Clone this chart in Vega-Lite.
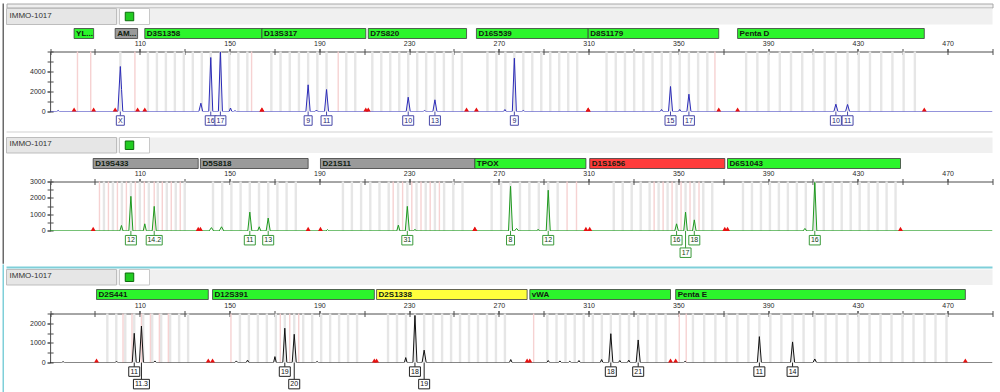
{
"$schema":"https://vega.github.io/schema/vega-lite/v6.json",
"padding":{"left":2.5,"top":2.5,"right":0,"bottom":0},
"config":{"view":{"stroke":null},"font":"Liberation Sans","axis":{"labelOverlap":false,"labelFlush":false}},
"datasets":{
"header":[{"sample":"IMMO-1017","status":"ok"}],
"loci":[
{"p":1,"locus":"YL...","start":80.7,"end":89.4,"qc":"pass"},
{"p":1,"locus":"AM...","start":99.0,"end":109.0,"qc":"none"},
{"p":1,"locus":"D3S1358","start":112.2,"end":164.4,"qc":"pass"},
{"p":1,"locus":"D13S317","start":164.4,"end":210.7,"qc":"pass"},
{"p":1,"locus":"D7S820","start":211.8,"end":255.6,"qc":"pass"},
{"p":1,"locus":"D16S539","start":260.0,"end":309.8,"qc":"pass"},
{"p":1,"locus":"D8S1179","start":309.8,"end":368.0,"qc":"pass"},
{"p":1,"locus":"Penta D","start":376.4,"end":459.6,"qc":"pass"},
{"p":2,"locus":"D19S433","start":89.2,"end":136.0,"qc":"none"},
{"p":2,"locus":"D5S818","start":137.0,"end":185.0,"qc":"none"},
{"p":2,"locus":"D21S11","start":190.5,"end":259.3,"qc":"none"},
{"p":2,"locus":"TPOX","start":259.3,"end":308.8,"qc":"pass"},
{"p":2,"locus":"D1S1656","start":310.5,"end":370.7,"qc":"fail"},
{"p":2,"locus":"D6S1043","start":371.9,"end":449.0,"qc":"pass"},
{"p":3,"locus":"D2S441","start":90.7,"end":140.5,"qc":"pass"},
{"p":3,"locus":"D12S391","start":142.4,"end":214.5,"qc":"pass"},
{"p":3,"locus":"D2S1338","start":215.5,"end":282.6,"qc":"check"},
{"p":3,"locus":"vWA","start":283.8,"end":346.5,"qc":"pass"},
{"p":3,"locus":"Penta E","start":348.8,"end":477.9,"qc":"pass"}
],
"bins":[
{"p":1,"k":"p","b":[82.2,88.1,107.8,159.8,198.4,366.3]},
{"p":1,"k":"g","b":[101.3,113.6,117.6,121.6,125.6,129.6,133.6,137.6,141.6,145.9,149.9,153.9,157.9,168.6,172.7,176.8,180.9,185.0,189.1,193.2,202.0,206.0,213.6,217.6,221.6,225.6,229.6,233.6,237.6,241.5,245.5,249.5,253.5,264.9,268.9,272.9,276.9,280.9,284.9,288.9,292.9,296.9,300.9,304.9,318.0,322.1,326.2,330.3,334.4,338.5,342.6,346.5,350.6,354.7,358.8,362.9,380.2,385.2,390.2,395.2,400.2,405.2,410.2,415.2,420.2,425.4,430.4,435.4,440.4,445.4,450.4,455.4]},
{"p":2,"k":"g","b":[94,98,102,106,110,114,118,122,126,130,142.6,146.7,150.8,154.9,159.0,163.1,167.2,171.3,175.4,179.5,200.5,204.5,208.6,212.7,216.8,220.9,225.1,229.2,233.3,237.4,241.5,245.6,249.7,253.8,266.8,271.0,275.2,279.4,283.6,287.8,292.0,296.2,321.2,325.2,329.2,333.2,337.2,341.2,345.2,349.2,353.2,357.1,361.1,365.1,378.8,382.8,386.8,390.8,394.8,398.8,402.8,406.8,410.8,414.8,418.8,422.8,426.8,430.8,434.8,438.8,442.8,446.8]},
{"p":2,"k":"p","b":[92,96,100,104,108,112,116.4,120,124,128,222.9,227.1,231.2,235.3,239.4,243.5,300.4,304.6,339.2,343.2,347.2,351.2,355.2,359.2]},
{"p":3,"k":"g","b":[95.5,99.5,103.5,107.5,111.5,115.5,119.5,123.5,127.5,131.5,154.6,158.6,162.6,166.6,170.6,174.6,178.8,182.8,186.8,190.8,194.8,198.8,202.8,206.8,220.6,224.6,228.6,232.6,236.7,240.7,244.7,248.7,252.7,256.7,260.7,264.7,268.7,272.7,291.6,295.7,299.7,303.8,307.8,311.9,315.9,319.9,324.0,328.0,332.1,336.2,340.2,344.3,356.5,361.5,366.5,371.4,376.3,381.2,386.1,391.0,395.9,400.9,405.8,410.7,415.6,420.5,425.4,430.3,435.2,440.1,445.0,449.9,454.8,459.7,464.6,469.5]},
{"p":3,"k":"p","b":[102.5,106.5,110.7,114.7,118.7,122.7,150.6,172.6,176.8,180.8,285.5,350.4,353.5]}
],
"alleles":[
{"p":1,"bp":101.3,"label":"X","tier":1},
{"p":1,"bp":141.6,"label":"16","tier":1},
{"p":1,"bp":145.9,"label":"17","tier":1},
{"p":1,"bp":185.0,"label":"9","tier":1},
{"p":1,"bp":193.2,"label":"11","tier":1},
{"p":1,"bp":229.6,"label":"10","tier":1},
{"p":1,"bp":241.5,"label":"13","tier":1},
{"p":1,"bp":276.9,"label":"9","tier":1},
{"p":1,"bp":346.5,"label":"15","tier":1},
{"p":1,"bp":354.7,"label":"17","tier":1},
{"p":1,"bp":420.2,"label":"10","tier":1},
{"p":1,"bp":425.4,"label":"11","tier":1},
{"p":2,"bp":106.0,"label":"12","tier":1},
{"p":2,"bp":116.4,"label":"14.2","tier":1},
{"p":2,"bp":159.0,"label":"11","tier":1},
{"p":2,"bp":167.2,"label":"13","tier":1},
{"p":2,"bp":229.2,"label":"31","tier":1},
{"p":2,"bp":275.2,"label":"8","tier":1},
{"p":2,"bp":292.0,"label":"12","tier":1},
{"p":2,"bp":349.2,"label":"16","tier":1},
{"p":2,"bp":353.2,"label":"17","tier":2},
{"p":2,"bp":357.1,"label":"18","tier":1},
{"p":2,"bp":410.8,"label":"16","tier":1},
{"p":3,"bp":107.5,"label":"11","tier":1},
{"p":3,"bp":110.7,"label":"11.3","tier":2},
{"p":3,"bp":174.6,"label":"19","tier":1},
{"p":3,"bp":178.8,"label":"20","tier":2},
{"p":3,"bp":232.6,"label":"18","tier":1},
{"p":3,"bp":236.7,"label":"19","tier":2},
{"p":3,"bp":319.9,"label":"18","tier":1},
{"p":3,"bp":332.1,"label":"21","tier":1},
{"p":3,"bp":386.1,"label":"11","tier":1},
{"p":3,"bp":400.9,"label":"14","tier":1}
],
"trace":[
{"p":1,"bp":70,"rfu":0},{"p":1,"bp":73.0,"rfu":0},{"p":1,"bp":73.6,"rfu":100},{"p":1,"bp":74.2,"rfu":0},
{"p":1,"bp":100.2,"rfu":0},{"p":1,"bp":101.3,"rfu":4500},{"p":1,"bp":101.85,"rfu":2200},{"p":1,"bp":102.4,"rfu":0},
{"p":1,"bp":136.3,"rfu":0},{"p":1,"bp":137.2,"rfu":830},{"p":1,"bp":138.0,"rfu":0},
{"p":1,"bp":140.7,"rfu":0},{"p":1,"bp":141.6,"rfu":5400},{"p":1,"bp":142.5,"rfu":0},
{"p":1,"bp":145.0,"rfu":0},{"p":1,"bp":145.9,"rfu":5950},{"p":1,"bp":146.8,"rfu":0},
{"p":1,"bp":149.8,"rfu":0},{"p":1,"bp":150.4,"rfu":350},{"p":1,"bp":151.0,"rfu":0},
{"p":1,"bp":151.8,"rfu":0},{"p":1,"bp":152.4,"rfu":80},{"p":1,"bp":153.0,"rfu":0},
{"p":1,"bp":184.0,"rfu":0},{"p":1,"bp":185.0,"rfu":2670},{"p":1,"bp":185.9,"rfu":0},
{"p":1,"bp":188.1,"rfu":0},{"p":1,"bp":188.7,"rfu":150},{"p":1,"bp":189.3,"rfu":0},
{"p":1,"bp":192.3,"rfu":0},{"p":1,"bp":193.2,"rfu":2200},{"p":1,"bp":194.1,"rfu":0},
{"p":1,"bp":228.7,"rfu":0},{"p":1,"bp":229.6,"rfu":1430},{"p":1,"bp":230.5,"rfu":0},
{"p":1,"bp":236.3,"rfu":0},{"p":1,"bp":236.9,"rfu":100},{"p":1,"bp":237.5,"rfu":0},
{"p":1,"bp":240.6,"rfu":0},{"p":1,"bp":241.5,"rfu":1170},{"p":1,"bp":242.4,"rfu":0},
{"p":1,"bp":272.1,"rfu":0},{"p":1,"bp":272.7,"rfu":200},{"p":1,"bp":273.3,"rfu":0},
{"p":1,"bp":276.0,"rfu":0},{"p":1,"bp":276.9,"rfu":5330},{"p":1,"bp":277.8,"rfu":0},
{"p":1,"bp":280.3,"rfu":0},{"p":1,"bp":280.9,"rfu":100},{"p":1,"bp":281.5,"rfu":0},
{"p":1,"bp":341.9,"rfu":0},{"p":1,"bp":342.5,"rfu":200},{"p":1,"bp":343.1,"rfu":0},
{"p":1,"bp":345.6,"rfu":0},{"p":1,"bp":346.5,"rfu":2500},{"p":1,"bp":347.4,"rfu":0},
{"p":1,"bp":350.0,"rfu":0},{"p":1,"bp":350.6,"rfu":200},{"p":1,"bp":351.2,"rfu":0},
{"p":1,"bp":353.8,"rfu":0},{"p":1,"bp":354.7,"rfu":1730},{"p":1,"bp":355.6,"rfu":0},
{"p":1,"bp":419.3,"rfu":0},{"p":1,"bp":420.2,"rfu":730},{"p":1,"bp":421.1,"rfu":0},
{"p":1,"bp":424.5,"rfu":0},{"p":1,"bp":425.4,"rfu":700},{"p":1,"bp":426.3,"rfu":0},
{"p":1,"bp":490,"rfu":0},
{"p":2,"bp":70,"rfu":0},{"p":2,"bp":101.1,"rfu":0},{"p":2,"bp":101.8,"rfu":330},{"p":2,"bp":102.5,"rfu":0},
{"p":2,"bp":105.1,"rfu":0},{"p":2,"bp":106.0,"rfu":2100},{"p":2,"bp":106.9,"rfu":0},
{"p":2,"bp":111.5,"rfu":0},{"p":2,"bp":112.2,"rfu":430},{"p":2,"bp":112.9,"rfu":0},
{"p":2,"bp":115.5,"rfu":0},{"p":2,"bp":116.4,"rfu":1490},{"p":2,"bp":117.3,"rfu":0},
{"p":2,"bp":140.9,"rfu":0},{"p":2,"bp":141.9,"rfu":200},{"p":2,"bp":142.9,"rfu":0},
{"p":2,"bp":145.4,"rfu":0},{"p":2,"bp":146.4,"rfu":250},{"p":2,"bp":147.4,"rfu":0},
{"p":2,"bp":158.1,"rfu":0},{"p":2,"bp":159.0,"rfu":1140},{"p":2,"bp":159.9,"rfu":0},
{"p":2,"bp":162.5,"rfu":0},{"p":2,"bp":163.2,"rfu":250},{"p":2,"bp":163.9,"rfu":0},
{"p":2,"bp":166.3,"rfu":0},{"p":2,"bp":167.2,"rfu":780},{"p":2,"bp":168.1,"rfu":0},
{"p":2,"bp":193.0,"rfu":0},{"p":2,"bp":193.6,"rfu":80},{"p":2,"bp":194.2,"rfu":0},
{"p":2,"bp":224.5,"rfu":0},{"p":2,"bp":225.2,"rfu":350},{"p":2,"bp":225.9,"rfu":0},
{"p":2,"bp":228.3,"rfu":0},{"p":2,"bp":229.2,"rfu":1490},{"p":2,"bp":230.1,"rfu":0},
{"p":2,"bp":232.0,"rfu":0},{"p":2,"bp":232.6,"rfu":100},{"p":2,"bp":233.2,"rfu":0},
{"p":2,"bp":274.3,"rfu":0},{"p":2,"bp":275.2,"rfu":2710},{"p":2,"bp":276.1,"rfu":0},
{"p":2,"bp":277.0,"rfu":0},{"p":2,"bp":277.9,"rfu":150},{"p":2,"bp":278.8,"rfu":0},
{"p":2,"bp":286.9,"rfu":0},{"p":2,"bp":287.5,"rfu":100},{"p":2,"bp":288.1,"rfu":0},
{"p":2,"bp":291.1,"rfu":0},{"p":2,"bp":292.0,"rfu":2470},{"p":2,"bp":292.9,"rfu":0},
{"p":2,"bp":348.4,"rfu":0},{"p":2,"bp":349.2,"rfu":430},{"p":2,"bp":350.0,"rfu":0},
{"p":2,"bp":352.4,"rfu":0},{"p":2,"bp":353.2,"rfu":1140},{"p":2,"bp":354.0,"rfu":0},
{"p":2,"bp":356.3,"rfu":0},{"p":2,"bp":357.1,"rfu":670},{"p":2,"bp":357.9,"rfu":0},
{"p":2,"bp":405.6,"rfu":0},{"p":2,"bp":406.4,"rfu":150},{"p":2,"bp":407.2,"rfu":0},
{"p":2,"bp":409.9,"rfu":0},{"p":2,"bp":410.8,"rfu":2950},{"p":2,"bp":411.7,"rfu":0},
{"p":2,"bp":490,"rfu":0},
{"p":3,"bp":70,"rfu":0},{"p":3,"bp":75.2,"rfu":0},{"p":3,"bp":75.8,"rfu":40},{"p":3,"bp":76.4,"rfu":0},
{"p":3,"bp":99.0,"rfu":0},{"p":3,"bp":99.6,"rfu":50},{"p":3,"bp":100.2,"rfu":0},
{"p":3,"bp":106.6,"rfu":0},{"p":3,"bp":107.5,"rfu":1490},{"p":3,"bp":108.4,"rfu":0},
{"p":3,"bp":109.8,"rfu":0},{"p":3,"bp":110.7,"rfu":1860},{"p":3,"bp":111.6,"rfu":0},
{"p":3,"bp":116.1,"rfu":0},{"p":3,"bp":116.7,"rfu":80},{"p":3,"bp":117.3,"rfu":0},
{"p":3,"bp":152.4,"rfu":0},{"p":3,"bp":153.0,"rfu":80},{"p":3,"bp":153.6,"rfu":0},
{"p":3,"bp":157.4,"rfu":0},{"p":3,"bp":158.0,"rfu":120},{"p":3,"bp":158.6,"rfu":0},
{"p":3,"bp":169.6,"rfu":0},{"p":3,"bp":170.2,"rfu":300},{"p":3,"bp":170.8,"rfu":0},
{"p":3,"bp":173.7,"rfu":0},{"p":3,"bp":174.6,"rfu":1750},{"p":3,"bp":175.5,"rfu":0},
{"p":3,"bp":177.9,"rfu":0},{"p":3,"bp":178.8,"rfu":1440},{"p":3,"bp":179.7,"rfu":0},
{"p":3,"bp":188.4,"rfu":0},{"p":3,"bp":189.0,"rfu":50},{"p":3,"bp":189.6,"rfu":0},
{"p":3,"bp":227.9,"rfu":0},{"p":3,"bp":228.5,"rfu":250},{"p":3,"bp":229.1,"rfu":0},
{"p":3,"bp":231.7,"rfu":0},{"p":3,"bp":232.6,"rfu":2400},{"p":3,"bp":233.5,"rfu":0},
{"p":3,"bp":235.8,"rfu":0},{"p":3,"bp":236.7,"rfu":630},{"p":3,"bp":237.6,"rfu":0},
{"p":3,"bp":274.7,"rfu":0},{"p":3,"bp":275.3,"rfu":150},{"p":3,"bp":275.9,"rfu":0},
{"p":3,"bp":291.4,"rfu":0},{"p":3,"bp":292.0,"rfu":100},{"p":3,"bp":292.6,"rfu":0},
{"p":3,"bp":296.6,"rfu":0},{"p":3,"bp":297.2,"rfu":80},{"p":3,"bp":297.8,"rfu":0},
{"p":3,"bp":301.0,"rfu":0},{"p":3,"bp":301.6,"rfu":60},{"p":3,"bp":302.2,"rfu":0},
{"p":3,"bp":305.1,"rfu":0},{"p":3,"bp":305.7,"rfu":100},{"p":3,"bp":306.3,"rfu":0},
{"p":3,"bp":315.2,"rfu":0},{"p":3,"bp":315.8,"rfu":150},{"p":3,"bp":316.4,"rfu":0},
{"p":3,"bp":319.0,"rfu":0},{"p":3,"bp":319.9,"rfu":1470},{"p":3,"bp":320.8,"rfu":0},
{"p":3,"bp":323.3,"rfu":0},{"p":3,"bp":323.9,"rfu":100},{"p":3,"bp":324.5,"rfu":0},
{"p":3,"bp":327.3,"rfu":0},{"p":3,"bp":327.9,"rfu":120},{"p":3,"bp":328.5,"rfu":0},
{"p":3,"bp":331.2,"rfu":0},{"p":3,"bp":332.1,"rfu":1150},{"p":3,"bp":333.0,"rfu":0},
{"p":3,"bp":352.4,"rfu":0},{"p":3,"bp":353.0,"rfu":60},{"p":3,"bp":353.6,"rfu":0},
{"p":3,"bp":385.2,"rfu":0},{"p":3,"bp":386.1,"rfu":1320},{"p":3,"bp":387.0,"rfu":0},
{"p":3,"bp":400.0,"rfu":0},{"p":3,"bp":400.9,"rfu":1050},{"p":3,"bp":401.8,"rfu":0},
{"p":3,"bp":410.0,"rfu":0},{"p":3,"bp":410.8,"rfu":180},{"p":3,"bp":411.6,"rfu":0},
{"p":3,"bp":490,"rfu":0}
]
},
"hconcat":[
{"vconcat":[
 {"width":1.5,"height":260.2,"view":{"fill":"#6a6a6a"},"data":{"values":[]},"mark":"point"},
 {"width":1.5,"height":129.3,"view":{"fill":"#7fcfd9"},"data":{"values":[]},"mark":"point"}
],"spacing":0,"bounds":"flush"},
{"vconcat":[
 {"width":986,"height":4,"view":{"fill":"#efefef","stroke":"#a8a8a8"},"data":{"values":[]},"mark":"point"},
 {"width":986,"height":0.5,"data":{"values":[]},"mark":"point"},
 {"width":986,"height":16,"view":{"fill":"#f0f0f0"},"data":{"name":"header"},
  "layer":[
   {"mark":{"type":"rect","fill":"#e6e6e6","stroke":"#bdbdbd","strokeWidth":1},"encoding":{"x":{"field":"sample","type":"nominal","scale":{"type":"band","range":[0,110],"paddingInner":0,"paddingOuter":0},"axis":null}}},
   {"mark":{"type":"text","align":"left","dx":3,"baseline":"middle","dy":-1,"fontSize":8,"font":"Liberation Sans","color":"#333333"},"encoding":{"x":{"field":"sample","type":"nominal","bandPosition":0,"scale":{"type":"band","range":[0,110],"paddingInner":0,"paddingOuter":0},"axis":null},"text":{"field":"sample"}}},
   {"mark":{"type":"rect","fill":"#ffffff","stroke":"#c8c8c8","strokeWidth":1},"encoding":{"x":{"field":"status","type":"nominal","scale":{"type":"band","range":[113,143],"paddingInner":0,"paddingOuter":0},"axis":null}}},
   {"mark":{"type":"point","shape":"square","filled":true,"fill":"#22cc22","stroke":"#0d6b0d","strokeWidth":1,"size":72,"opacity":1,"xOffset":-5},"encoding":{"x":{"field":"status","type":"nominal","scale":{"type":"band","range":[113,143],"paddingInner":0,"paddingOuter":0},"axis":null}}}
  ],
  "resolve":{"scale":{"x":"independent"}}},
 {"width":986,"height":4,"data":{"values":[]},"mark":"point"},
 {"width":986,"height":10,"data":{"name":"loci"},"transform":[{"filter":"datum.p==1"}],
  "layer":[
   {"mark":{"type":"rect","stroke":"#3c3c3c","strokeWidth":0.8},"encoding":{"x":{"field":"start","type":"quantitative","scale":{"domain":[70,490],"range":[43.6,986],"nice":false,"zero":false},"axis":null},"x2":{"field":"end"},"color":{"field":"qc","type":"nominal","scale":{"domain":["pass","none","fail","check"],"range":["#2cf52c","#9a9a9a","#ff3b3b","#ffff3c"]},"legend":null}}},
   {"mark":{"type":"text","align":"left","dx":2,"baseline":"middle","fontSize":8,"fontWeight":"bold","font":"Liberation Sans","color":"#102010"},"encoding":{"x":{"field":"start","type":"quantitative","scale":{"domain":[70,490],"range":[43.6,986],"nice":false,"zero":false},"axis":null},"text":{"field":"locus"}}}
  ]},
 {"width":986,"height":13,"data":{"values":[]},"mark":"point"},
 {"width":986,"height":60,
  "layer":[
   {"layer":[
    {"data":{"name":"bins"},"transform":[{"filter":"datum.p==1 && datum.k=='g'"},{"flatten":["b"]}],"mark":{"type":"rule","color":"#e6e6e6","strokeWidth":2.4},"encoding":{"x":{"field":"b","type":"quantitative","scale":{"domain":[70,490],"range":[43.6,986],"nice":false,"zero":false},"axis":{"orient":"top","values":[110,150,190,230,270,310,350,390,430,470],"format":"d","tickSize":3,"tickColor":"#4d4d4d","domainColor":"#4d4d4d","labelFontSize":7,"labelColor":"#2a2a2a","labelPadding":2,"labelFont":"Liberation Sans","title":null,"grid":false,"labelFlush":false,"labelOverlap":false}}}},
    {"data":{"name":"bins"},"transform":[{"filter":"datum.p==1 && datum.k=='p'"},{"flatten":["b"]}],"mark":{"type":"rule","color":"#f6d2d2","strokeWidth":1.4},"encoding":{"x":{"field":"b","type":"quantitative"}}},
    {"data":{"name":"trace"},"transform":[{"filter":"datum.p==1"}],"mark":{"type":"line","color":"#2b2bb8","strokeWidth":1,"clip":true},"encoding":{"x":{"field":"bp","type":"quantitative"},"y":{"field":"rfu","type":"quantitative","scale":{"domain":[0,6000],"nice":false},"axis":{"orient":"left","offset":-43.6,"values":[0,2000,4000],"format":"d","tickSize":3,"tickColor":"#4d4d4d","domainColor":"#4d4d4d","labelFontSize":7,"labelColor":"#2a2a2a","labelPadding":2,"labelFont":"Liberation Sans","title":null,"grid":false,"labelOverlap":false,"labelFlush":false}}}}
   ]},
   {"data":{"name":"loci"},"transform":[{"filter":"datum.p==1"},{"fold":["start","end"],"as":["edge","pos"]}],"mark":{"type":"point","shape":"triangle-up","filled":true,"color":"#e81010","size":24,"opacity":1,"yOffset":-2},
    "encoding":{"x":{"field":"pos","type":"quantitative","scale":{"domain":[70,490],"range":[43.6,986],"nice":false,"zero":false},"axis":{"orient":"top","offset":-3,"values":[70,90,110,130,150,170,190,210,230,250,270,290,310,330,350,370,390,410,430,450,470,490],"labels":false,"domain":false,"tickSize":6,"tickColor":"#4d4d4d","title":null,"grid":false}},
     "y":{"datum":0,"type":"quantitative","scale":{"domain":[0,6000],"nice":false},"axis":{"orient":"left","offset":-46.6,"values":[0,1000,2000,3000,4000,5000,6000],"labels":false,"domain":false,"tickSize":6,"tickColor":"#4d4d4d","title":null,"grid":false}}}},
   {"data":{"name":"alleles"},"transform":[{"filter":"datum.p==1"}],
    "encoding":{"x":{"field":"bp","type":"quantitative","scale":{"domain":[70,490],"range":[43.6,986],"nice":false,"zero":false},"axis":null},"y":{"field":"tier","type":"quantitative","scale":{"domain":[1,2],"range":[69,81.5]},"axis":null}},
    "layer":[
     {"mark":{"type":"rule","color":"#4848a8","yOffset":-4.75,"y2Offset":-9},"encoding":{"y2":{"datum":1}}},
     {"transform":[{"filter":"length(datum.label)==1"}],"mark":{"type":"rect","fill":"#ffffff","stroke":"#4848a8","strokeWidth":1,"xOffset":-4,"x2Offset":4,"yOffset":-4.75,"y2Offset":4.75},"encoding":{"x2":{"field":"bp"},"y2":{"field":"tier"}}},
     {"transform":[{"filter":"length(datum.label)==2"}],"mark":{"type":"rect","fill":"#ffffff","stroke":"#4848a8","strokeWidth":1,"xOffset":-5.5,"x2Offset":5.5,"yOffset":-4.75,"y2Offset":4.75},"encoding":{"x2":{"field":"bp"},"y2":{"field":"tier"}}},
     {"transform":[{"filter":"length(datum.label)>2"}],"mark":{"type":"rect","fill":"#ffffff","stroke":"#4848a8","strokeWidth":1,"xOffset":-8,"x2Offset":8,"yOffset":-4.75,"y2Offset":4.75},"encoding":{"x2":{"field":"bp"},"y2":{"field":"tier"}}},
     {"mark":{"type":"text","fontSize":7,"font":"Liberation Sans","color":"#1c1c70","baseline":"middle"},"encoding":{"text":{"field":"label"}}}
    ]}
  ],
  "resolve":{"scale":{"x":"independent","y":"independent"}}},
 {"width":986,"height":19.5,"data":{"values":[]},"mark":"point"},
 {"width":986,"height":1,"view":{"fill":"#d2d2d2"},"data":{"values":[]},"mark":"point"},
 {"width":986,"height":5,"data":{"values":[]},"mark":"point"},
 {"width":986,"height":15.5,"view":{"fill":"#f0f0f0"},"data":{"name":"header"},
  "layer":[
   {"mark":{"type":"rect","fill":"#e6e6e6","stroke":"#bdbdbd","strokeWidth":1},"encoding":{"x":{"field":"sample","type":"nominal","scale":{"type":"band","range":[0,110],"paddingInner":0,"paddingOuter":0},"axis":null}}},
   {"mark":{"type":"text","align":"left","dx":3,"baseline":"middle","dy":-1,"fontSize":8,"font":"Liberation Sans","color":"#333333"},"encoding":{"x":{"field":"sample","type":"nominal","bandPosition":0,"scale":{"type":"band","range":[0,110],"paddingInner":0,"paddingOuter":0},"axis":null},"text":{"field":"sample"}}},
   {"mark":{"type":"rect","fill":"#ffffff","stroke":"#c8c8c8","strokeWidth":1},"encoding":{"x":{"field":"status","type":"nominal","scale":{"type":"band","range":[113,143],"paddingInner":0,"paddingOuter":0},"axis":null}}},
   {"mark":{"type":"point","shape":"square","filled":true,"fill":"#22cc22","stroke":"#0d6b0d","strokeWidth":1,"size":72,"opacity":1,"xOffset":-5},"encoding":{"x":{"field":"status","type":"nominal","scale":{"type":"band","range":[113,143],"paddingInner":0,"paddingOuter":0},"axis":null}}}
  ],
  "resolve":{"scale":{"x":"independent"}}},
 {"width":986,"height":4.5,"data":{"values":[]},"mark":"point"},
 {"width":986,"height":10,"data":{"name":"loci"},"transform":[{"filter":"datum.p==2"}],
  "layer":[
   {"mark":{"type":"rect","stroke":"#3c3c3c","strokeWidth":0.8},"encoding":{"x":{"field":"start","type":"quantitative","scale":{"domain":[70,490],"range":[43.6,986],"nice":false,"zero":false},"axis":null},"x2":{"field":"end"},"color":{"field":"qc","type":"nominal","scale":{"domain":["pass","none","fail","check"],"range":["#2cf52c","#9a9a9a","#ff3b3b","#ffff3c"]},"legend":null}}},
   {"mark":{"type":"text","align":"left","dx":2,"baseline":"middle","fontSize":8,"fontWeight":"bold","font":"Liberation Sans","color":"#102010"},"encoding":{"x":{"field":"start","type":"quantitative","scale":{"domain":[70,490],"range":[43.6,986],"nice":false,"zero":false},"axis":null},"text":{"field":"locus"}}}
  ]},
 {"width":986,"height":12.8,"data":{"values":[]},"mark":"point"},
 {"width":986,"height":49.4,
  "layer":[
   {"layer":[
    {"data":{"name":"bins"},"transform":[{"filter":"datum.p==2 && datum.k=='g'"},{"flatten":["b"]}],"mark":{"type":"rule","color":"#e6e6e6","strokeWidth":2.4},"encoding":{"x":{"field":"b","type":"quantitative","scale":{"domain":[70,490],"range":[43.6,986],"nice":false,"zero":false},"axis":{"orient":"top","values":[110,150,190,230,270,310,350,390,430,470],"format":"d","tickSize":3,"tickColor":"#4d4d4d","domainColor":"#4d4d4d","labelFontSize":7,"labelColor":"#2a2a2a","labelPadding":2,"labelFont":"Liberation Sans","title":null,"grid":false,"labelFlush":false,"labelOverlap":false}}}},
    {"data":{"name":"bins"},"transform":[{"filter":"datum.p==2 && datum.k=='p'"},{"flatten":["b"]}],"mark":{"type":"rule","color":"#f6d2d2","strokeWidth":1.4},"encoding":{"x":{"field":"b","type":"quantitative"}}},
    {"data":{"name":"trace"},"transform":[{"filter":"datum.p==2"}],"mark":{"type":"line","color":"#1e9a1e","strokeWidth":1,"clip":true},"encoding":{"x":{"field":"bp","type":"quantitative"},"y":{"field":"rfu","type":"quantitative","scale":{"domain":[0,3000],"nice":false},"axis":{"orient":"left","offset":-43.6,"values":[0,1000,2000,3000],"format":"d","tickSize":3,"tickColor":"#4d4d4d","domainColor":"#4d4d4d","labelFontSize":7,"labelColor":"#2a2a2a","labelPadding":2,"labelFont":"Liberation Sans","title":null,"grid":false,"labelOverlap":false,"labelFlush":false}}}}
   ]},
   {"data":{"name":"loci"},"transform":[{"filter":"datum.p==2"},{"fold":["start","end"],"as":["edge","pos"]}],"mark":{"type":"point","shape":"triangle-up","filled":true,"color":"#e81010","size":24,"opacity":1,"yOffset":-2},
    "encoding":{"x":{"field":"pos","type":"quantitative","scale":{"domain":[70,490],"range":[43.6,986],"nice":false,"zero":false},"axis":{"orient":"top","offset":-3,"values":[70,90,110,130,150,170,190,210,230,250,270,290,310,330,350,370,390,410,430,450,470,490],"labels":false,"domain":false,"tickSize":6,"tickColor":"#4d4d4d","title":null,"grid":false}},
     "y":{"datum":0,"type":"quantitative","scale":{"domain":[0,3000],"nice":false},"axis":{"orient":"left","offset":-46.6,"values":[0,500,1000,1500,2000,2500,3000],"labels":false,"domain":false,"tickSize":6,"tickColor":"#4d4d4d","title":null,"grid":false}}}},
   {"data":{"name":"alleles"},"transform":[{"filter":"datum.p==2"}],
    "encoding":{"x":{"field":"bp","type":"quantitative","scale":{"domain":[70,490],"range":[43.6,986],"nice":false,"zero":false},"axis":null},"y":{"field":"tier","type":"quantitative","scale":{"domain":[1,2],"range":[58.7,71.2]},"axis":null}},
    "layer":[
     {"mark":{"type":"rule","color":"#3a9a3a","yOffset":-4.75,"y2Offset":-9.3},"encoding":{"y2":{"datum":1}}},
     {"transform":[{"filter":"length(datum.label)==1"}],"mark":{"type":"rect","fill":"#ffffff","stroke":"#3a9a3a","strokeWidth":1,"xOffset":-4,"x2Offset":4,"yOffset":-4.75,"y2Offset":4.75},"encoding":{"x2":{"field":"bp"},"y2":{"field":"tier"}}},
     {"transform":[{"filter":"length(datum.label)==2"}],"mark":{"type":"rect","fill":"#ffffff","stroke":"#3a9a3a","strokeWidth":1,"xOffset":-5.5,"x2Offset":5.5,"yOffset":-4.75,"y2Offset":4.75},"encoding":{"x2":{"field":"bp"},"y2":{"field":"tier"}}},
     {"transform":[{"filter":"length(datum.label)>2"}],"mark":{"type":"rect","fill":"#ffffff","stroke":"#3a9a3a","strokeWidth":1,"xOffset":-8,"x2Offset":8,"yOffset":-4.75,"y2Offset":4.75},"encoding":{"x2":{"field":"bp"},"y2":{"field":"tier"}}},
     {"mark":{"type":"text","fontSize":7,"font":"Liberation Sans","color":"#143c14","baseline":"middle"},"encoding":{"text":{"field":"label"}}}
    ]}
  ],
  "resolve":{"scale":{"x":"independent","y":"independent"}}},
 {"width":986,"height":35,"data":{"values":[]},"mark":"point"},
 {"width":986,"height":2,"view":{"fill":"#7fcfd9"},"data":{"values":[]},"mark":"point"},
 {"width":986,"height":1,"data":{"values":[]},"mark":"point"},
 {"width":986,"height":15.5,"view":{"fill":"#f0f0f0"},"data":{"name":"header"},
  "layer":[
   {"mark":{"type":"rect","fill":"#e6e6e6","stroke":"#bdbdbd","strokeWidth":1},"encoding":{"x":{"field":"sample","type":"nominal","scale":{"type":"band","range":[0,110],"paddingInner":0,"paddingOuter":0},"axis":null}}},
   {"mark":{"type":"text","align":"left","dx":3,"baseline":"middle","dy":-1,"fontSize":8,"font":"Liberation Sans","color":"#333333"},"encoding":{"x":{"field":"sample","type":"nominal","bandPosition":0,"scale":{"type":"band","range":[0,110],"paddingInner":0,"paddingOuter":0},"axis":null},"text":{"field":"sample"}}},
   {"mark":{"type":"rect","fill":"#ffffff","stroke":"#c8c8c8","strokeWidth":1},"encoding":{"x":{"field":"status","type":"nominal","scale":{"type":"band","range":[113,143],"paddingInner":0,"paddingOuter":0},"axis":null}}},
   {"mark":{"type":"point","shape":"square","filled":true,"fill":"#22cc22","stroke":"#0d6b0d","strokeWidth":1,"size":72,"opacity":1,"xOffset":-5},"encoding":{"x":{"field":"status","type":"nominal","scale":{"type":"band","range":[113,143],"paddingInner":0,"paddingOuter":0},"axis":null}}}
  ],
  "resolve":{"scale":{"x":"independent"}}},
 {"width":986,"height":3.3,"data":{"values":[]},"mark":"point"},
 {"width":986,"height":10,"data":{"name":"loci"},"transform":[{"filter":"datum.p==3"}],
  "layer":[
   {"mark":{"type":"rect","stroke":"#3c3c3c","strokeWidth":0.8},"encoding":{"x":{"field":"start","type":"quantitative","scale":{"domain":[70,490],"range":[43.6,986],"nice":false,"zero":false},"axis":null},"x2":{"field":"end"},"color":{"field":"qc","type":"nominal","scale":{"domain":["pass","none","fail","check"],"range":["#2cf52c","#9a9a9a","#ff3b3b","#ffff3c"]},"legend":null}}},
   {"mark":{"type":"text","align":"left","dx":2,"baseline":"middle","fontSize":8,"fontWeight":"bold","font":"Liberation Sans","color":"#102010"},"encoding":{"x":{"field":"start","type":"quantitative","scale":{"domain":[70,490],"range":[43.6,986],"nice":false,"zero":false},"axis":null},"text":{"field":"locus"}}}
  ]},
 {"width":986,"height":13.2,"data":{"values":[]},"mark":"point"},
 {"width":986,"height":49,
  "layer":[
   {"layer":[
    {"data":{"name":"bins"},"transform":[{"filter":"datum.p==3 && datum.k=='g'"},{"flatten":["b"]}],"mark":{"type":"rule","color":"#e6e6e6","strokeWidth":2.4},"encoding":{"x":{"field":"b","type":"quantitative","scale":{"domain":[70,490],"range":[43.6,986],"nice":false,"zero":false},"axis":{"orient":"top","values":[110,150,190,230,270,310,350,390,430,470],"format":"d","tickSize":3,"tickColor":"#4d4d4d","domainColor":"#4d4d4d","labelFontSize":7,"labelColor":"#2a2a2a","labelPadding":2,"labelFont":"Liberation Sans","title":null,"grid":false,"labelFlush":false,"labelOverlap":false}}}},
    {"data":{"name":"bins"},"transform":[{"filter":"datum.p==3 && datum.k=='p'"},{"flatten":["b"]}],"mark":{"type":"rule","color":"#f6d2d2","strokeWidth":1.4},"encoding":{"x":{"field":"b","type":"quantitative"}}},
    {"data":{"name":"trace"},"transform":[{"filter":"datum.p==3"}],"mark":{"type":"line","color":"#111111","strokeWidth":1,"clip":true},"encoding":{"x":{"field":"bp","type":"quantitative"},"y":{"field":"rfu","type":"quantitative","scale":{"domain":[0,2500],"nice":false},"axis":{"orient":"left","offset":-43.6,"values":[0,1000,2000],"format":"d","tickSize":3,"tickColor":"#4d4d4d","domainColor":"#4d4d4d","labelFontSize":7,"labelColor":"#2a2a2a","labelPadding":2,"labelFont":"Liberation Sans","title":null,"grid":false,"labelOverlap":false,"labelFlush":false}}}}
   ]},
   {"data":{"name":"loci"},"transform":[{"filter":"datum.p==3"},{"fold":["start","end"],"as":["edge","pos"]}],"mark":{"type":"point","shape":"triangle-up","filled":true,"color":"#e81010","size":24,"opacity":1,"yOffset":-2},
    "encoding":{"x":{"field":"pos","type":"quantitative","scale":{"domain":[70,490],"range":[43.6,986],"nice":false,"zero":false},"axis":{"orient":"top","offset":-3,"values":[70,90,110,130,150,170,190,210,230,250,270,290,310,330,350,370,390,410,430,450,470,490],"labels":false,"domain":false,"tickSize":6,"tickColor":"#4d4d4d","title":null,"grid":false}},
     "y":{"datum":0,"type":"quantitative","scale":{"domain":[0,2500],"nice":false},"axis":{"orient":"left","offset":-46.6,"values":[0,500,1000,1500,2000,2500],"labels":false,"domain":false,"tickSize":6,"tickColor":"#4d4d4d","title":null,"grid":false}}}},
   {"data":{"name":"alleles"},"transform":[{"filter":"datum.p==3"}],
    "encoding":{"x":{"field":"bp","type":"quantitative","scale":{"domain":[70,490],"range":[43.6,986],"nice":false,"zero":false},"axis":null},"y":{"field":"tier","type":"quantitative","scale":{"domain":[1,2],"range":[58.1,70.6]},"axis":null}},
    "layer":[
     {"mark":{"type":"rule","color":"#222222","yOffset":-4.75,"y2Offset":-9.1},"encoding":{"y2":{"datum":1}}},
     {"transform":[{"filter":"length(datum.label)==1"}],"mark":{"type":"rect","fill":"#ffffff","stroke":"#222222","strokeWidth":1,"xOffset":-4,"x2Offset":4,"yOffset":-4.75,"y2Offset":4.75},"encoding":{"x2":{"field":"bp"},"y2":{"field":"tier"}}},
     {"transform":[{"filter":"length(datum.label)==2"}],"mark":{"type":"rect","fill":"#ffffff","stroke":"#222222","strokeWidth":1,"xOffset":-5.5,"x2Offset":5.5,"yOffset":-4.75,"y2Offset":4.75},"encoding":{"x2":{"field":"bp"},"y2":{"field":"tier"}}},
     {"transform":[{"filter":"length(datum.label)>2"}],"mark":{"type":"rect","fill":"#ffffff","stroke":"#222222","strokeWidth":1,"xOffset":-8,"x2Offset":8,"yOffset":-4.75,"y2Offset":4.75},"encoding":{"x2":{"field":"bp"},"y2":{"field":"tier"}}},
     {"mark":{"type":"text","fontSize":7,"font":"Liberation Sans","color":"#111111","baseline":"middle"},"encoding":{"text":{"field":"label"}}}
    ]}
  ],
  "resolve":{"scale":{"x":"independent","y":"independent"}}},
 {"width":986,"height":33,"data":{"values":[]},"mark":"point"}
],"spacing":0,"bounds":"flush"}
],
"spacing":1
}
